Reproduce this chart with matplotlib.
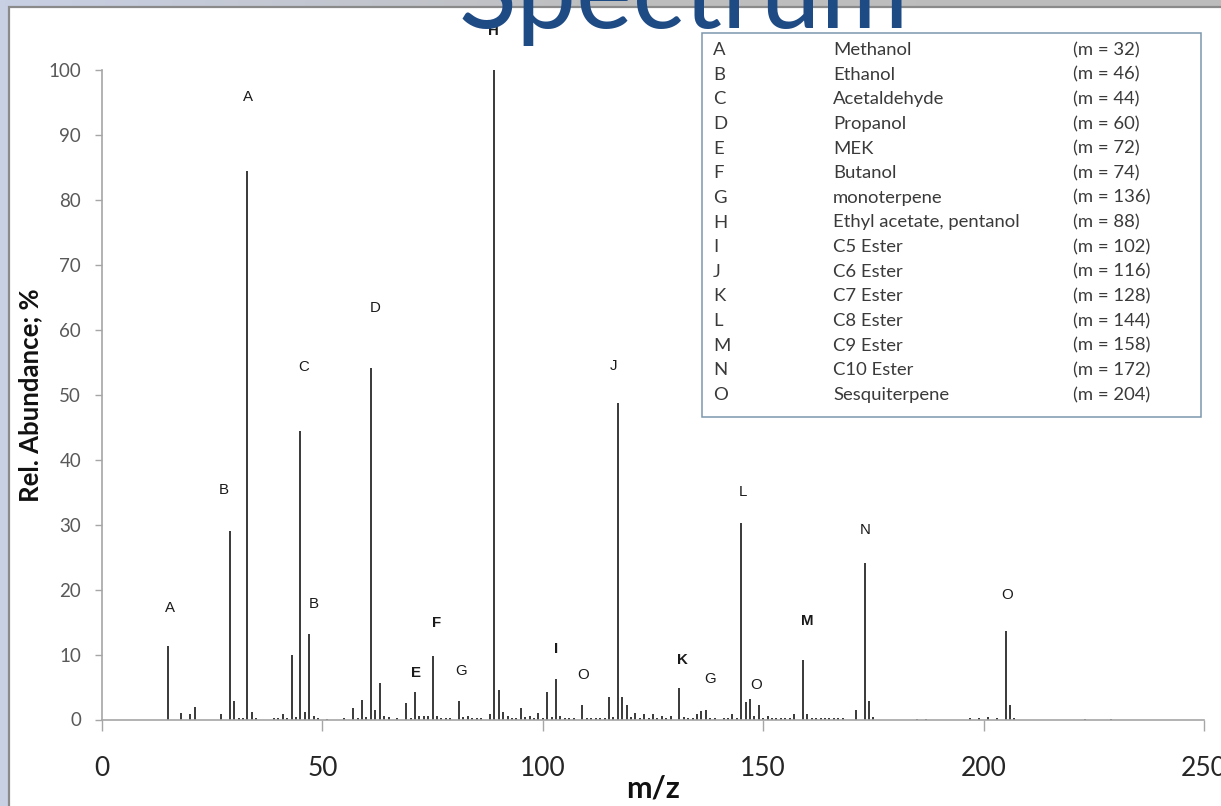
import numpy as np
import matplotlib
matplotlib.use("Agg")
import matplotlib.pyplot as plt
from matplotlib.patches import Rectangle
from matplotlib.colors import LinearSegmentedColormap

# ---- spectrum data: m/z and relative abundance (%) ----
mz = [15, 18, 20, 21, 27, 29, 30, 31, 32, 33, 34, 35, 39, 40, 41, 42, 43, 44, 45, 46,
      47, 48, 49, 51, 55, 57, 58, 59, 60, 61, 62, 63, 64, 65, 67, 69, 70, 71, 72, 73,
      74, 75, 76, 77, 78, 79, 81, 82, 83, 84, 85, 86, 88, 89, 90, 91, 92, 93, 94, 95,
      96, 97, 98, 99, 100, 101, 102, 103, 104, 105, 106, 107, 109, 110, 111, 112, 113, 114, 115, 116,
      117, 118, 119, 120, 121, 122, 123, 124, 125, 126, 127, 128, 129, 131, 132, 133, 134, 135, 136, 137,
      138, 139, 141, 142, 143, 144, 145, 146, 147, 148, 149, 150, 151, 152, 153, 154, 155, 156, 157, 159,
      160, 161, 162, 163, 164, 165, 166, 167, 168, 171, 173, 174, 175, 185, 187, 197, 199, 201, 203, 205,
      206, 207, 223, 229]
abundance = [11.3, 1.0, 0.9, 1.9, 0.9, 29.0, 2.8, 0.3, 0.3, 84.5, 1.1, 0.3, 0.2, 0.3, 0.8, 0.3, 10.0, 0.4, 44.4, 1.2,
             13.2, 0.5, 0.2, 0.1, 0.3, 1.7, 0.3, 3.0, 0.4, 54.1, 1.4, 5.6, 0.5, 0.4, 0.2, 2.6, 0.3, 4.2, 0.6, 0.6,
             0.5, 9.7, 0.5, 0.3, 0.2, 0.2, 2.9, 0.4, 0.6, 0.3, 0.3, 0.2, 0.9, 100.0, 4.6, 1.2, 0.5, 0.3, 0.3, 1.7,
             0.4, 0.5, 0.2, 1.0, 0.2, 4.2, 0.4, 6.2, 0.5, 0.2, 0.2, 0.3, 2.3, 0.3, 0.2, 0.2, 0.2, 0.2, 3.4, 0.4,
             48.7, 3.4, 2.2, 0.4, 1.0, 0.3, 0.8, 0.3, 0.8, 0.3, 0.5, 0.3, 0.5, 4.8, 0.4, 0.3, 0.3, 0.9, 1.3, 1.5,
             0.3, 0.2, 0.2, 0.3, 0.9, 0.3, 30.2, 2.7, 3.1, 0.5, 2.2, 0.2, 0.5, 0.3, 0.3, 0.3, 0.3, 0.3, 0.8, 9.1,
             0.9, 0.3, 0.3, 0.3, 0.2, 0.3, 0.2, 0.2, 0.2, 1.4, 24.1, 2.8, 0.4, 0.1, 0.1, 0.2, 0.3, 0.4, 0.2, 13.6,
             2.3, 0.3, 0.1, 0.1]

# ---- peak annotations ----
peak_letters = ['A', 'A', 'B', 'B', 'C', 'D', 'E', 'F', 'G', 'H',
                'I', 'O', 'J', 'K', 'G', 'L', 'O', 'M', 'N', 'O']
peak_label_x = [15.4, 33.1, 27.7, 48.1, 45.8, 61.9, 71.2, 76.0, 81.4, 88.7,
                103.0, 109.1, 116.1, 131.7, 137.9, 145.4, 148.5, 159.9, 173.2, 205.4]
peak_label_y = [17.2, 95.8, 35.4, 17.8, 54.2, 63.4, 7.2, 14.9, 7.4, 106.0,
                10.8, 6.8, 54.5, 9.1, 6.3, 35.1, 5.3, 15.2, 29.1, 19.1]
bold_letters = {'H', 'E', 'F', 'I', 'K', 'M'}

# ---- compound key ----
key_letters = ['A', 'B', 'C', 'D', 'E', 'F', 'G', 'H', 'I', 'J', 'K', 'L', 'M', 'N', 'O']
key_names = ['Methanol', 'Ethanol', 'Acetaldehyde', 'Propanol', 'MEK', 'Butanol',
             'monoterpene', 'Ethyl acetate, pentanol', 'C5 Ester', 'C6 Ester',
             'C7 Ester', 'C8 Ester', 'C9 Ester', 'C10 Ester', 'Sesquiterpene']
key_mass = [32, 46, 44, 60, 72, 74, 136, 88, 102, 116, 128, 144, 158, 172, 204]

x_ticks = [0, 50, 100, 150, 200, 250]
y_ticks = list(range(0, 101, 10))

W, H = 1221, 806
fig = plt.figure(figsize=(W / 100, H / 100), dpi=100)
fig.patch.set_facecolor('#c8d0e4')

# slide background: lavender frame, grey top strip, white content panel
bg = fig.add_axes([0, 0, 1, 1], zorder=-10)
bg.axis('off')
grad = np.linspace(0, 1, 256)[None, :]
strip_cmap = LinearSegmentedColormap.from_list('strip', ['#c8d0e4', '#bebebe', '#bcbcbc'])
bg.imshow(grad, cmap=strip_cmap, extent=[0, W, 7, 0], aspect='auto')
bg.add_patch(Rectangle((9, 7), W, H, facecolor='white', edgecolor='#8a8a8a', lw=1.6))
bg.set_xlim(0, W)
bg.set_ylim(H, 0)

# main spectrum axes
ax = fig.add_axes([102 / W, 1 - 719.5 / H, (1204 - 102) / W, (719.5 - 70) / H])
ax.set_facecolor('none')
ax.vlines(mz, 0, abundance, colors='#2a2a2a', lw=1.3)
ax.set_xlim(0, 250)
ax.set_ylim(0, 100)
for s in ('top', 'right'):
    ax.spines[s].set_visible(False)
for s in ('left', 'bottom'):
    ax.spines[s].set_color('#a6a6a6')
    ax.spines[s].set_linewidth(1.2)
ax.set_xticks(x_ticks)
ax.set_yticks(y_ticks)
ax.tick_params(axis='y', direction='out', length=5, width=1, color='#a6a6a6',
               labelsize=13.5, labelcolor='#595959', pad=10)
ax.tick_params(axis='x', direction='out', length=8, width=1, color='#a6a6a6',
               labelsize=19, labelcolor='#262626', pad=18)
for lab in ax.get_xticklabels() + ax.get_yticklabels():
    lab.set_family('Lato')

ax.set_ylabel('Rel. Abundance; %', fontsize=18.5, fontweight='bold', family='Lato',
              color='#111111', va='center')
ax.yaxis.set_label_coords(-0.0653, 0.5)
ax.set_xlabel('m/z', fontsize=22, fontweight='bold', family='Lato', color='#111111',
              va='center')
ax.xaxis.set_label_coords(0.5, -0.107)

for letter, lx, ly in zip(peak_letters, peak_label_x, peak_label_y):
    ax.text(lx, ly, letter, ha='center', va='center', fontsize=10.8,
            family='Liberation Sans',
            fontweight='bold' if letter in bold_letters else 'normal',
            color='#1a1a1a', clip_on=False)

# compound key box
bg.add_patch(Rectangle((702, 33), 1201 - 702, 417 - 33, facecolor='white',
                       edgecolor='#7c97ae', lw=1.1, zorder=2))
row0, row_step = 50, (395 - 50) / 14
for i, (k, n, m) in enumerate(zip(key_letters, key_names, key_mass)):
    yy = row0 + i * row_step
    for xx, s in ((713, k), (833, n), (1073, f'(m = {m})')):
        bg.text(xx, yy, s, ha='left', va='center', fontsize=13.3, family='Lato',
                color='#3a3a3a', zorder=3)

# slide title (partly above the visible area)
fig.text(684 / W, 1 - 28 / H, 'Spectrum', ha='center', va='baseline', fontsize=77,
         family='Lato', color='#1f4b85', zorder=20)

fig.savefig('out.png', dpi=100)
